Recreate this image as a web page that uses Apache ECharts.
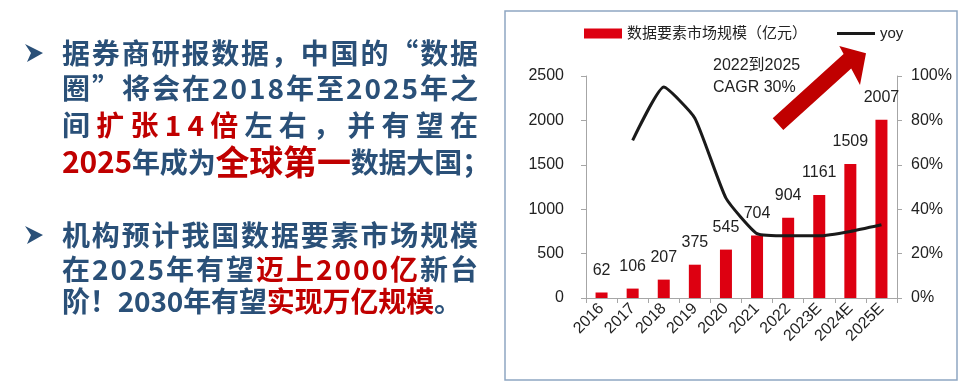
<!DOCTYPE html>
<html>
<head>
<meta charset="utf-8">
<script src="https://cdn.jsdelivr.net/npm/echarts@6/dist/echarts.min.js"></script>
<style>
html,body{margin:0;padding:0;background:#fff;}
#c{width:980px;height:390px;}
</style>
</head>
<body>
<div id="c"></div>
<script>
// ---- chart data ----
const categories = ['2016','2017','2018','2019','2020','2021','2022','2023E','2024E','2025E'];
const marketSize = [62,106,207,375,545,704,904,1161,1509,2007];
const yoyPct = [null,71,95,81,45,29,28,28,30,33];
const leftAxis = {min:0, max:2500, interval:500};
const rightAxis = {min:0, max:100, interval:20};
const seriesNames = ['数据要素市场规模（亿元）','yoy'];
const noteLines = ['2022到2025','CAGR 30%'];

// ---- slide text ----
const BLUE = '#2a5078', RED = '#c00000';
const textLines = [
  {y:53,  x0:62, x1:478, segs:[['据券商研报数据，中国的“数据',BLUE,28]]},
  {y:88,  x0:62, x1:478, segs:[['圈”将会在2018年至2025年之',BLUE,28]]},
  {y:125, x0:62, x1:478, segs:[['间',BLUE,28],['扩张14倍',RED,28],['左右，并有望在',BLUE,28]]},
  {y:162, x0:62, x1:490, segs:[['2025',RED,30],['年成为',BLUE,28],['全球第一',RED,34],['数据大国；',BLUE,28]]},
  {y:235, x0:62, x1:478, segs:[['机构预计我国数据要素市场规模',BLUE,28]]},
  {y:269, x0:62, x1:478, segs:[['在2025年有望',BLUE,28],['迈上2000亿',RED,28],['新台',BLUE,28]]},
  {y:301, x0:62, x1:462, segs:[['阶！2030年有望',BLUE,28],['实现万亿规模',RED,28],['。',BLUE,28]]}
];
const bulletYs = [53, 235];

const cv = document.createElement('canvas');
const ctx = cv.getContext('2d');
const CJK = '"Noto Sans CJK SC"';
function fontOf(size){ return 'bold ' + size + 'px ' + CJK; }

const graphics = [];
textLines.forEach(function(ln){
  const chars = [];
  ln.segs.forEach(function(s){
    Array.from(s[0]).forEach(function(ch){
      ctx.font = fontOf(s[2]);
      chars.push({c:ch, color:s[1], size:s[2], w:ctx.measureText(ch).width});
    });
  });
  const W = chars.reduce(function(a,b){return a+b.w;},0);
  const gap = chars.length>1 ? (ln.x1 - ln.x0 - W)/(chars.length-1) : 0;
  let x = ln.x0;
  chars.forEach(function(ch){
    graphics.push({type:'text', x:x, y:ln.y, silent:true,
      style:{text:ch.c, font:fontOf(ch.size), fill:ch.color, align:'left', verticalAlign:'middle'}});
    x += ch.w + gap;
  });
});
bulletYs.forEach(function(by){
  graphics.push({type:'polygon', silent:true,
    shape:{points:[[25,by-9],[43,by],[27,by+9],[31,by]]},
    style:{fill:BLUE}});
});
// chart frame
graphics.push({type:'rect', silent:true, shape:{x:505,y:11,width:452,height:369},
  style:{fill:null, stroke:'#8ea7c2', lineWidth:1.5}});
// annotation
noteLines.forEach(function(t,i){
  graphics.push({type:'text', x:713, y:66+i*22, silent:true,
    style:{text:t, font:'16px "Liberation Sans","Noto Sans CJK SC"', fill:'#222', align:'left', verticalAlign:'middle'}});
});
// big arrow
graphics.push({type:'polygon', silent:true, z:5,
  shape:{points:[[772.7,118.3],[843.6,54.1],[839.3,46],[866,53.3],[860,85],[851.2,68.5],[783.3,130]]},
  style:{fill:'#c00000'}});

const chart = echarts.init(document.getElementById('c'));
const latin = '"Liberation Sans","Noto Sans CJK SC"';
chart.setOption({
  animation:false,
  backgroundColor:'#fff',
  textStyle:{fontFamily:latin},
  legend:{
    left:579, top:21, itemWidth:38, itemHeight:10, itemGap:30,
    textStyle:{fontSize:15, color:'#222', fontFamily:latin},
    data:[{name:seriesNames[0], icon:'rect'},
          {name:seriesNames[1], icon:'path://M0,0 L38,0 L38,3 L0,3 Z'}]
  },
  grid:{left:586, right:83, top:76, bottom:92, containLabel:false},
  xAxis:{
    type:'category', data:categories,
    axisLine:{lineStyle:{color:'#a6a6a6', width:1}},
    axisTick:{show:true, length:5, lineStyle:{color:'#a6a6a6'}},
    axisLabel:{rotate:45, margin:8, interval:0, fontSize:16, color:'#222', fontFamily:latin}
  },
  yAxis:[
    {type:'value', min:leftAxis.min, max:leftAxis.max, interval:leftAxis.interval,
     axisLine:{show:true, lineStyle:{color:'#a6a6a6'}},
     axisTick:{show:true, length:5, lineStyle:{color:'#a6a6a6'}},
     splitLine:{show:false},
     axisLabel:{margin:22, fontSize:16, color:'#222', fontFamily:latin, formatter:function(v){return String(v);}}},
    {type:'value', position:'right', min:rightAxis.min, max:rightAxis.max, interval:rightAxis.interval,
     axisLine:{show:true, lineStyle:{color:'#a6a6a6'}},
     axisTick:{show:true, length:5, lineStyle:{color:'#a6a6a6'}},
     splitLine:{show:false},
     axisLabel:{margin:14, fontSize:16, color:'#222', formatter:function(v){return v + '%';}, fontFamily:latin}}
  ],
  series:[
    {name:seriesNames[0], type:'bar', data:marketSize, barWidth:12, yAxisIndex:0,
     itemStyle:{color:'#dd0011'},
     label:{show:true, position:'top', distance:14, fontSize:16, color:'#222', fontFamily:latin}},
    {name:seriesNames[1], type:'line', data:yoyPct, yAxisIndex:1, smooth:0.15,
     symbol:'none', showSymbol:false, connectNulls:false,
     itemStyle:{color:'#1a1a1a'},
     lineStyle:{color:'#1a1a1a', width:3}}
  ],
  graphic:graphics
});
</script>
</body>
</html>
